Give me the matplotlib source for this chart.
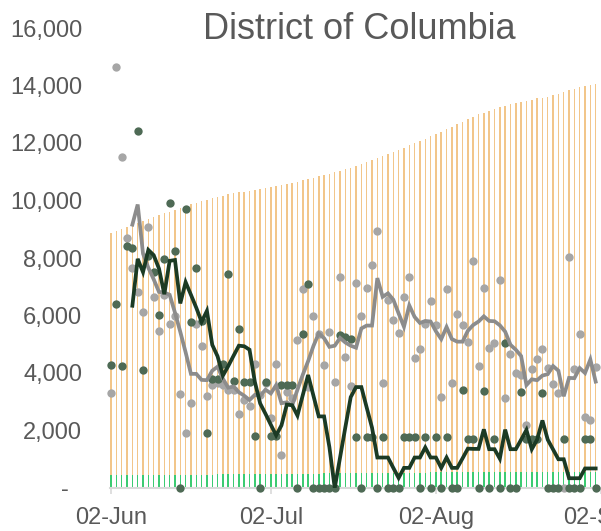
import numpy as np
import pandas as pd
import matplotlib
matplotlib.use("Agg")
import matplotlib.pyplot as plt
import matplotlib.dates as mdates
from matplotlib.ticker import FuncFormatter

# -------- data (one value per day, starting 02-Jun) --------
START = "2020-06-02"

cumulative = [
    8860, 8930, 9000, 9080, 9150, 9220, 9280, 9350, 9420, 9480,
    9550, 9610, 9680, 9730, 9800, 9870, 9930, 9980, 10030, 10070,
    10120, 10170, 10220, 10250, 10280, 10310, 10340, 10370, 10400, 10420,
    10460, 10500, 10530, 10570, 10610, 10650, 10700, 10740, 10790, 10840,
    10880, 10930, 10980, 11030, 11080, 11140, 11200, 11270, 11330, 11400,
    11470, 11540, 11620, 11700, 11770, 11840, 11920, 11990, 12070, 12150,
    12240, 12320, 12400, 12490, 12570, 12660, 12740, 12830, 12910, 13000,
    13060, 13120, 13180, 13240, 13300, 13350, 13390, 13430, 13470, 13510,
    13550, 13580, 13610, 13670, 13720, 13780, 13830, 13890, 13940, 13980,
    14010, 14050,
]

baseline = (
    [460] * 20 + [490] * 20 + [520] * 20 + [540] * 20 + [560] * 12
)

gray_pts = [
    3290, 14650, 11520, 8680, 7640, 6810, 6110, 9070, 6650, 5460,
    6710, 5700, 5990, 3270, 1920, 2950, 5700, 4950, 3210, 3580,
    3660, 3580, 3420, 3410, 2560, 3060, 2850, 4300, 3230, 3640,
    2420, 4330, 1150, 3350, 3120, 5150, 6920, 3500, 5990, 5340,
    4280, 5440, 3700, 7330, 4540, 3550, 7120, 5990, 6940, 7760,
    8940, 3640, 6550, 5840, 5380, 6630, 7350, 4530, 4830, 5700,
    6520, 5670, 3180, 6910, 3640, 6050, 5670, 5090, 7910, 4240,
    6940, 4880, 5030, 7230, 3120, 4650, 4010, 3930, 2190, 4130,
    4480, 4830, 4160, 3620, 3320, 0, 8050, 4130, 5350, 2460,
    2370, 4200,
]

green_pts = [
    4280, 6400, 4240, 8430, 8360, 12430, 4100, 8080, 7530, 6020,
    7970, 9900, 8230, 0, 9700, 5760, 7640, 5800, 1900, 3780,
    3780, 4300, 7440, 3720, 5530, 3680, 3680, 1820, 0, 3700,
    1820, 1800, 3600, 3600, 3600, 0, 5360, 7100, 0, 0,
    0, 0, 0, 5320, 5260, 5200, 1760, 0, 1760, 1760,
    0, 1760, 0, 0, 0, 1760, 1760, 1760, 0, 1760,
    0, 1760, 0, 1760, 0, 0, 3410, 1690, 1690, 0,
    3390, 0, 1690, 0, 5060, 0, 0, 3350, 1690, 1690,
    1690, 3320, 0, 0, 0, 1690, 0, 0, 0, 1690,
    1690, 0,
]

# averages start on the 5th day
gray_avg = [
    9160, 9860, 8150, 7660, 7260, 6820, 6800, 6720, 6100, 5430,
    4720, 3970, 3970, 3760, 3750, 4080, 4220, 3800, 3490, 3530,
    3330, 3210, 3060, 3240, 3200, 3420, 3290, 3580, 2950, 2980,
    2870, 3420, 3940, 4410, 4940, 5380, 5210, 4910, 4950, 5220,
    5060, 4950, 4880, 5550, 5650, 5650, 7300, 6650, 6770, 6550,
    6070, 5610, 6350, 5950, 5740, 5810, 5790, 5450, 5180, 5600,
    5180, 5090, 5090, 5470, 5670, 5790, 5970, 5810, 5800, 5660,
    5440, 4980, 4810, 4590, 3580, 3780, 3750, 3910, 3960, 4240,
    4080, 3190, 3830, 3820, 4170, 4000, 4470, 3700,
]

green_avg = [
    6340, 7970, 7510, 8280, 8100, 7630, 6740, 7900, 7930, 6420,
    7160, 6720, 6270, 5780, 6160, 4980, 4580, 3910, 4240, 4600,
    4950, 4930, 4810, 3690, 2940, 2580, 2200, 1830, 2180, 2900,
    2880, 2520, 3230, 3930, 3210, 2490, 2490, 1420, 0, 1060,
    2120, 3160, 3510, 3510, 2800, 2100, 1060, 1060, 1060, 700,
    350, 700, 700, 1060, 1060, 1410, 1060, 1060, 700, 1060,
    700, 700, 1030, 1370, 1360, 1360, 2040, 1350, 1350, 1020,
    2030, 1350, 1350, 1680, 2020, 1350, 1680, 2350, 1680, 1340,
    1000, 1000, 340, 340, 340, 680, 680, 680,
]

TICK_DATES = ["2020-06-02", "2020-07-02", "2020-08-02", "2020-09-02"]

# -------- style --------
plt.rcParams["font.family"] = ["Liberation Sans", "DejaVu Sans"]
TEXT_COLOR = "#595959"
AXIS_COLOR = "#D9D9D9"
ORANGE = "#F2C68A"
BRIGHT_GREEN = "#3CCB72"
GRAY_DOT = "#A6A6A6"
GREEN_DOT = "#4E6A55"
GRAY_LINE = "#8C8C8C"
GREEN_LINE = "#1B3A24"

dates = pd.date_range(START, periods=len(cumulative), freq="D")

fig = plt.figure(figsize=(6.01, 5.31), dpi=100)
ax = fig.add_axes([110 / 601, 43 / 531, 491 / 601, 460 / 531])

ax.bar(dates, cumulative, width=0.28, color=ORANGE, zorder=1)
ax.bar(dates, baseline, width=0.28, color=BRIGHT_GREEN, zorder=2)

ax.scatter(dates, gray_pts, s=36, color=GRAY_DOT, linewidths=0, zorder=3, clip_on=False)
ax.scatter(dates, green_pts, s=36, color=GREEN_DOT, linewidths=0, zorder=4, clip_on=False)

ax.plot(dates[4:], gray_avg, color=GRAY_LINE, lw=2.7, zorder=5, solid_joinstyle="miter")
ax.plot(dates[4:], green_avg, color=GREEN_LINE, lw=2.7, zorder=6, solid_joinstyle="miter")

# -------- axes --------
x0 = mdates.date2num(dates[0])
ax.set_xlim(x0 - 0.2, x0 + 91.7)
ax.set_ylim(0, 16000)

ax.set_yticks(np.arange(0, 16001, 2000))
ax.yaxis.set_major_formatter(
    FuncFormatter(lambda v, p: "-\u00a0\u00a0" if v == 0 else f"{v:,.0f}")
)
ax.set_xticks(pd.to_datetime(TICK_DATES))
ax.xaxis.set_major_formatter(mdates.DateFormatter("%d-%b"))

for side in ["top", "right", "left"]:
    ax.spines[side].set_visible(False)
ax.spines["bottom"].set_color(AXIS_COLOR)
ax.spines["bottom"].set_linewidth(1.5)
ax.spines["bottom"].set_zorder(2.5)

ax.tick_params(axis="y", length=0, pad=20, labelsize=17, labelcolor=TEXT_COLOR)
ax.tick_params(axis="x", length=4, width=1.2, color=AXIS_COLOR, pad=10,
               labelsize=17, labelcolor=TEXT_COLOR)

fig.text(359.5 / 601, 1 - 39 / 531, "District of Columbia", ha="center",
         va="baseline", fontsize=26, color=TEXT_COLOR)

fig.savefig("out.png", dpi=100)
